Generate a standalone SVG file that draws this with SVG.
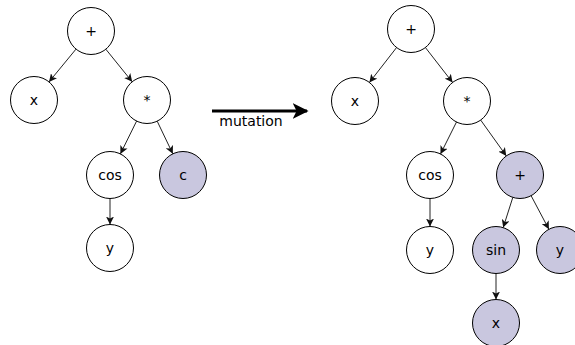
<svg xmlns="http://www.w3.org/2000/svg" width="575" height="345" viewBox="0 0 575 345">
<style>
.n{fill:#fff;stroke:#000;stroke-width:1}
.s{fill:#c9c7df;stroke:#000;stroke-width:1}
.t{font-family:"DejaVu Sans",sans-serif;font-size:14px;fill:#000;text-anchor:middle}
.e{stroke:#222;stroke-width:1;fill:none;marker-end:url(#a)}
</style>
<defs>
<marker id="a" viewBox="0 0 10 10" refX="10" refY="5" markerWidth="8" markerHeight="8" markerUnits="userSpaceOnUse" orient="auto">
<path d="M0,0 L10,5 L0,10 L2.5,5 z" fill="#111"/>
</marker>
<marker id="b" viewBox="0 0 10 10" refX="9" refY="5" markerWidth="16" markerHeight="16" markerUnits="userSpaceOnUse" orient="auto">
<path d="M0,0 L10,5 L0,10 L2.5,5 z" fill="#000"/>
</marker>
</defs>
<g id="connectors">
<line class="e" x1="76" y1="49.1" x2="49" y2="81.9"/>
<line class="e" x1="105.8" y1="49.2" x2="132.2" y2="81.8"/>
<line class="e" x1="136.6" y1="121.1" x2="120.4" y2="153.9"/>
<line class="e" x1="157.2" y1="121.2" x2="172.8" y2="153.8"/>
<line class="e" x1="110" y1="198.5" x2="110" y2="224.5"/>
<line class="e" x1="396.6" y1="47.5" x2="369.4" y2="82.5"/>
<line class="e" x1="425.4" y1="47.5" x2="452.6" y2="82.5"/>
<line class="e" x1="456.5" y1="122" x2="440.5" y2="154"/>
<line class="e" x1="480.7" y1="120.1" x2="506.3" y2="155.9"/>
<line class="e" x1="430" y1="198.5" x2="430" y2="226.5"/>
<line class="e" x1="512.8" y1="197.4" x2="503.2" y2="227.6"/>
<line class="e" x1="531.1" y1="195.7" x2="548.9" y2="229.3"/>
<line class="e" x1="496" y1="273.5" x2="496" y2="299.5"/>
<line x1="212" y1="111" x2="307" y2="111" stroke="#000" stroke-width="3" marker-end="url(#b)"/>
<text class="t" x="251" y="126">mutation</text>
</g>
<g id="L_plus"><circle class="n" cx="91" cy="31" r="23.5"/><text class="t" x="91" y="36">+</text></g>
<g id="L_x"><circle class="n" cx="34" cy="100" r="23.5"/><text class="t" x="34" y="105">x</text></g>
<g id="L_mul"><circle class="n" cx="147" cy="100" r="23.5"/><text class="t" x="147" y="105">*</text></g>
<g id="L_cos"><circle class="n" cx="110" cy="175" r="23.5"/><text class="t" x="110" y="180">cos</text></g>
<g id="L_c"><circle class="s" cx="183" cy="175" r="23.5"/><text class="t" x="183" y="180">c</text></g>
<g id="L_y"><circle class="n" cx="110" cy="248" r="23.5"/><text class="t" x="110" y="253">y</text></g>
<g id="R_plus"><circle class="n" cx="411" cy="29" r="23.5"/><text class="t" x="411" y="34">+</text></g>
<g id="R_x"><circle class="n" cx="355" cy="101" r="23.5"/><text class="t" x="355" y="106">x</text></g>
<g id="R_mul"><circle class="n" cx="467" cy="101" r="23.5"/><text class="t" x="467" y="106">*</text></g>
<g id="R_cos"><circle class="n" cx="430" cy="175" r="23.5"/><text class="t" x="430" y="180">cos</text></g>
<g id="R_plus2"><circle class="s" cx="520" cy="175" r="23.5"/><text class="t" x="520" y="180">+</text></g>
<g id="R_y1"><circle class="n" cx="430" cy="250" r="23.5"/><text class="t" x="430" y="255">y</text></g>
<g id="R_sin"><circle class="s" cx="496" cy="250" r="23.5"/><text class="t" x="496" y="255">sin</text></g>
<g id="R_y2"><circle class="s" cx="560" cy="250" r="23.5"/><text class="t" x="560" y="255">y</text></g>
<g id="R_x2"><circle class="s" cx="496" cy="323" r="23.5"/><text class="t" x="496" y="328">x</text></g>
</svg>
